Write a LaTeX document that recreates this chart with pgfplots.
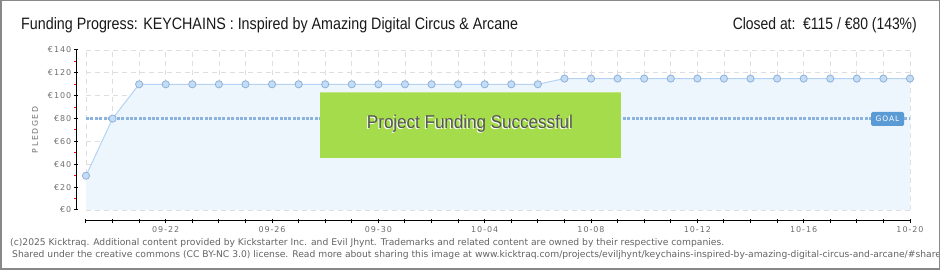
\documentclass[border=0pt]{standalone}
\usepackage{pgfplots}
\pgfplotsset{compat=1.18}
\usepackage{fontspec}
\setmainfont{DejaVu Sans}
\newfontfamily\titlefont{Liberation Sans}
\newfontfamily\spaced[LetterSpace=20]{DejaVu Sans}
\newfontfamily\tickfont[LetterSpace=12]{DejaVu Sans}
\definecolor{gridc}{RGB}{222,222,222}
\definecolor{areac}{RGB}{237,245,253}
\definecolor{linec}{RGB}{181,211,243}
\definecolor{markf}{RGB}{195,221,247}
\definecolor{markd}{RGB}{143,176,214}
\definecolor{goalc}{RGB}{140,178,222}
\definecolor{goalbox}{RGB}{91,155,213}
\definecolor{greenc}{RGB}{165,220,75}
\definecolor{tickc}{RGB}{110,110,110}
\definecolor{footc}{RGB}{100,100,100}
\definecolor{framec}{RGB}{136,136,136}
\definecolor{succc}{RGB}{85,85,85}
\newsavebox\footA
\begin{document}
\sbox\footA{\color{footc}\fontsize{8.6}{10}\selectfont (c)2025 Kicktraq. Additional content provided by Kickstarter Inc. and Evil Jhynt. Trademarks and related content are owned by their respective companies.}%
\pgfmathsetmacro\fs{714/\wd\footA}%
\begin{tikzpicture}[x=1pt,y=1pt]
\useasboundingbox (0,0) rectangle (940,270);
\fill[white] (0,0) rectangle (940,270);
% main plot area
\begin{axis}[at={(86pt,60pt)}, anchor=south west, scale only axis,
  width=824pt, height=160pt,
  xmin=0, xmax=31, ymin=0, ymax=140,
  xtick={0,...,31}, ytick={0,20,...,140},
  xticklabels={}, yticklabels={},
  major tick length=0pt,
  grid=major, grid style={dash pattern=on 5pt off 4pt, color=gridc, line width=0.8pt},
  axis line style={draw=none}, clip=false]
\addplot[fill=areac, draw=none] coordinates {
(0,30)(1,80)(2,110)(3,110)(4,110)(5,110)(6,110)(7,110)(8,110)(9,110)(10,110)
(11,110)(12,110)(13,110)(14,110)(15,110)(16,110)(17,110)(18,115)(19,115)(20,115)
(21,115)(22,115)(23,115)(24,115)(25,115)(26,115)(27,115)(28,115)(29,115)(30,115)(31,115)} \closedcycle;
\addplot[goalc, line width=2.6pt, dash pattern=on 3pt off 1.4pt] coordinates {(0,80)(31,80)};
\addplot[linec, line width=1pt, mark=*, mark size=3.6pt,
  mark options={fill=markf, draw=markd, line width=0.8pt}] coordinates {
(0,30)(1,80)(2,110)(3,110)(4,110)(5,110)(6,110)(7,110)(8,110)(9,110)(10,110)
(11,110)(12,110)(13,110)(14,110)(15,110)(16,110)(17,110)(18,115)(19,115)(20,115)
(21,115)(22,115)(23,115)(24,115)(25,115)(26,115)(27,115)(28,115)(29,115)(30,115)(31,115)};
\end{axis}
% axes with ticks
\begin{axis}[at={(76pt,49pt)}, anchor=south west, scale only axis,
  width=834pt, height=171pt,
  xmin=-0.375, xmax=31, ymin=-9.625, ymax=140,
  axis x line*=bottom, axis y line*=left, axis line style={draw=none},
  /pgf/number format/assume math mode=true,
  xtick={3,7,...,31},
  xticklabels={09-22,09-26,09-30,10-04,10-08,10-12,10-16,10-20},
  minor xtick={0,...,31},
  ytick={0,20,...,140},
  yticklabels={€0,€20,€40,€60,€80,€100,€120,€140},
  extra y ticks={10,30,...,130}, extra y tick labels={},
  extra y tick style={major tick length=3pt, tick style={red, line width=1pt, xshift=-1pt}},
  tick align=center, major tick length=4.5pt, minor tick length=4.5pt,
  tick style={black, line width=1pt},
  ticklabel style={font=\tickfont\fontsize{8}{9}\selectfont, text=tickc},
  xticklabel style={yshift=0.5pt},
  yticklabel style={xshift=1pt}]
\draw[black, line width=1pt] (axis cs:0,-9.625) -- (axis cs:31,-9.625);
\draw[black, line width=1pt] (axis cs:-0.375,0) -- (axis cs:-0.375,140);
\end{axis}
% ylabel
\node[rotate=90, text=tickc, font=\spaced\fontsize{7.8}{8}\selectfont] at (35,140) {PLEDGED};
% success box
\fill[greenc] (320,112) rectangle (621,178);
\draw[greenc!70!white, line width=0.8pt] (320,177.6) -- (621,177.6);
\node[text=white, anchor=base, inner sep=0] at (469,140) {\titlefont\resizebox{206pt}{\height}{\fontsize{18.5}{20}\selectfont Project Funding Successful}};
\node[text=succc, anchor=base, inner sep=0] at (470,141) {\titlefont\resizebox{206pt}{\height}{\fontsize{18.5}{20}\selectfont Project Funding Successful}};
% goal label
\node[fill=goalbox, rounded corners=1.5pt, minimum width=33pt, minimum height=14pt, inner sep=0, text=white, font=\tickfont\fontsize{7.5}{8}\selectfont] at (887.5,151) {GOAL};
% title
\node[anchor=base west, inner sep=0, text=black!90] at (21,240) {\titlefont\resizebox{497pt}{\height}{\fontsize{16.5}{18}\selectfont Funding Progress: KEYCHAINS : Inspired by Amazing Digital Circus \& Arcane}};
\node[anchor=base east, inner sep=0, text=black!90] at (917,240) {\titlefont\resizebox{184pt}{\height}{\fontsize{16.5}{18}\selectfont Closed at:\ \ €115 / €80 (143\%)}};
% footer
\node[anchor=base west, inner sep=0, text=footc] at (10,24) {\scalebox{\fs}{\usebox\footA}};
\begin{scope}
\clip (0,0) rectangle (938,270);
\node[anchor=base west, inner sep=0, text=footc] at (12,12.5) {\scalebox{\fs}{\fontsize{8.6}{10}\selectfont Shared under the creative commons (CC BY-NC 3.0) license. Read more about sharing this image at www.kicktraq.com/projects/eviljhynt/keychains-inspired-by-amazing-digital-circus-and-arcane/\#share}};
\end{scope}
\draw[framec, line width=1.5pt] (0.75,0.75) rectangle (939.25,269.25);
\end{tikzpicture}
\end{document}
